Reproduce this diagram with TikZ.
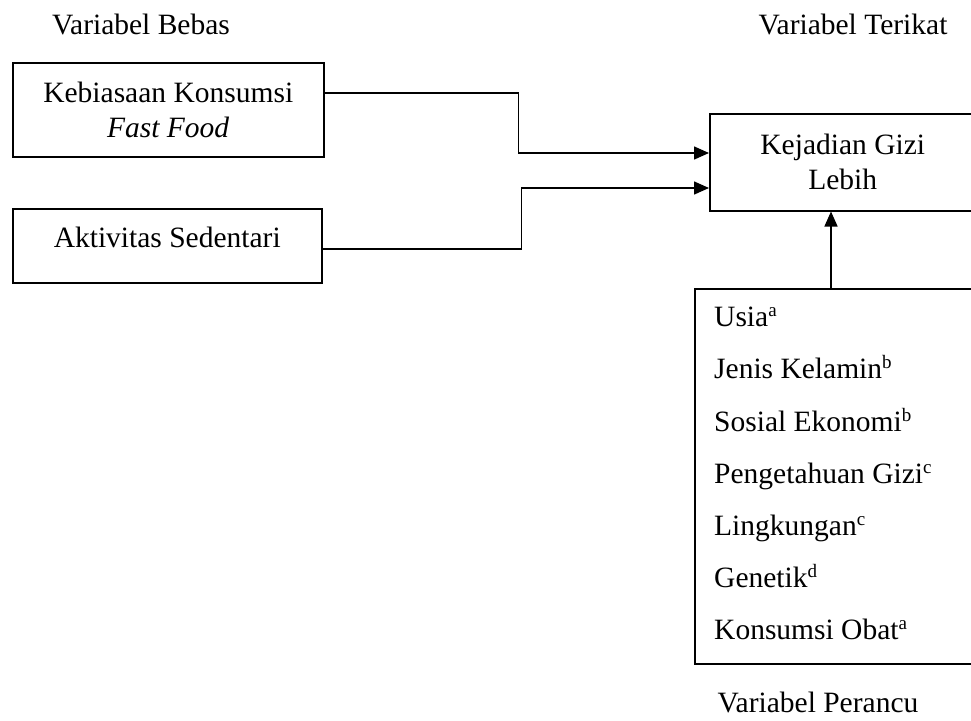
\documentclass[tikz,border=0pt]{standalone}
\usepackage{fontspec}
\setmainfont{Liberation Serif}
\usetikzlibrary{arrows.meta,calc}
\newcommand{\supl}[1]{\raisebox{10pt}{\fontsize{19}{19}\selectfont #1}}
\tikzset{
  box/.style={draw, line width=1.5pt, anchor=north west, inner sep=0pt, align=center},
  lbl/.style={inner sep=0pt, font=\fontsize{29.5}{35}\selectfont},
  arr/.style={line width=1.5pt, -{Triangle[length=15pt,width=13pt]}},
}
\begin{document}
\begin{tikzpicture}[x=1pt,y=-1pt]
\useasboundingbox (0,0) rectangle (971,720);
\clip (0,0) rectangle (971,720);
\node[lbl, anchor=base] (tb) at (141,34) {Variabel Bebas};
\node[lbl, anchor=base] (tt) at (853,34) {Variabel Terikat};
\node[lbl, anchor=base] (tp) at (818,712) {Variabel Perancu};
\node[box, lbl, minimum width=311pt, minimum height=94pt] (b1) at (12,62)
  {Kebiasaan Konsumsi\\\textit{Fast Food}};
\node[box, lbl, minimum width=309pt, minimum height=74pt] (b2) at (12,208)
  {Aktivitas Sedentari\\[-19pt]};
\node[box, lbl, minimum width=266pt, minimum height=97pt] (b3) at (709,113)
  {Kejadian Gizi\\Lebih};
\node[box, minimum width=285pt, minimum height=375pt] (b4) at (694,288) {};
\node[lbl, anchor=north west, align=left, font=\fontsize{29.5}{52.2}\selectfont]
  (list) at (714,307)
  {Usia\supl{a}\\
   Jenis Kelamin\supl{b}\\
   Sosial Ekonomi\supl{b}\\
   Pengetahuan Gizi\supl{c}\\
   Lingkungan\supl{c}\\
   Genetik\supl{d}\\
   Konsumsi Obat\supl{a}};
\draw[arr] ([yshift=-31pt]b1.north east) -- ++(194,0) |- ([yshift=-40pt]b3.north west);
\draw[arr] ([yshift=-3pt]b2.east) -- ++(199,0) |- ([yshift=-75pt]b3.north west);
\coordinate (c4) at ([xshift=137pt]b4.north west);
\draw[arr] (c4) -- (c4 |- b3.south);
\end{tikzpicture}
\end{document}
